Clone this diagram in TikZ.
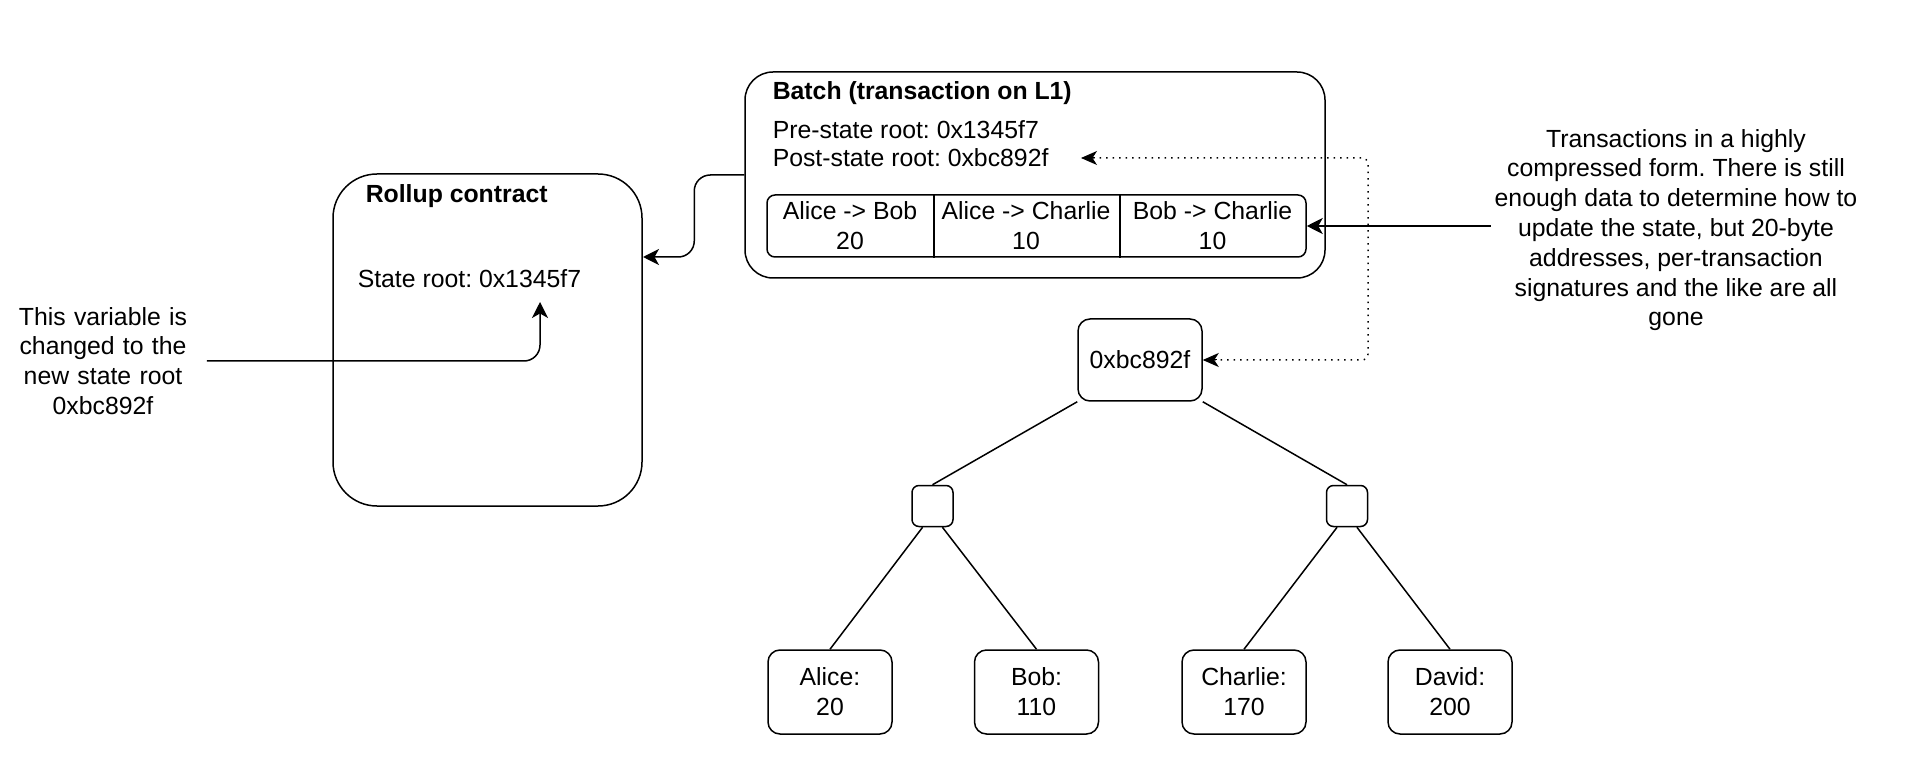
\documentclass[tikz,border=0pt]{standalone}
\usepackage{fontspec}
\setmainfont{Liberation Sans}
\usetikzlibrary{positioning}
\usetikzlibrary{calc}
\usetikzlibrary{arrows.meta}
\frenchspacing

\begin{document}
\begin{tikzpicture}[
    x=1pt, y=-1pt,
    font=\fontsize{24.8}{29.8}\selectfont,
    line width=1.5pt,
    tip/.style={-{Stealth[length=16pt,width=16pt,inset=4.5pt]}},
    roundbox/.style={draw, rounded corners=#1, inner sep=0pt},
    roundbox/.default=12pt,
    plain/.style={inner sep=0pt, anchor=west},
    leafbox/.style={roundbox, minimum width=124pt, minimum height=84pt, align=center},
    midbox/.style={roundbox=7pt, minimum width=41pt, minimum height=41pt},
    dotline/.style={line width=1.5pt, dash pattern=on 1.5pt off 5pt, rounded corners=6pt},
    dottip/.style={-{Stealth[length=16pt,width=14pt,inset=4.5pt]}, line width=1pt},
  ]
  \useasboundingbox (0,0) rectangle (1906,775);

  % rollup contract on L1
  \node [roundbox=44pt, minimum width=309pt, minimum height=332pt] (rollup) at (487.5, 340) {};
  \node [plain, font=\fontsize{24.8}{29.8}\selectfont\bfseries] (rolluptitle) at (365, 196) {Rollup contract};
  \node [plain] (stateroot) at (357, 279) {State root: 0x1345f7};
  \coordinate (rootin) at (540, 302);

  \node [align=center, text width=200pt, inner sep=3pt] (note) at (103, 361) {This variable is\\changed to the\\new state root\\0xbc892f};

  % batch
  \node [roundbox=28pt, minimum width=580pt, minimum height=206pt] (batch) at (1035, 175) {};
  \node [plain, font=\fontsize{24.8}{29.8}\selectfont\bfseries] (batchtitle) at (772, 93) {Batch (transaction on L1)};
  \node [plain] (prestate) at (772, 130) {Pre-state root: 0x1345f7};
  \node [plain] (poststate) at (772, 158) {Post-state root: 0xbc892f};
  \coordinate (postin) at (1081, 158);

  \node [roundbox=8pt, minimum width=539pt, minimum height=62pt] (txrow) at (1036.5, 226) {};
  \node [minimum width=166pt, minimum height=62pt, inner sep=0pt, align=center] (tx1) at (850, 226) {Alice -> Bob\\20};
  \node [minimum width=186pt, minimum height=62pt, inner sep=0pt, align=center] (tx2) at (1026, 226) {Alice -> Charlie\\10};
  \node [minimum width=187pt, minimum height=62pt, inner sep=0pt, align=center] (tx3) at (1212.5, 226) {Bob -> Charlie\\10};
  \draw (tx1.north east) -- (tx1.south east);
  \draw (tx2.north east) -- (tx2.south east);

  \node [align=center, inner sep=3pt] (compnote) at (1676, 230) {Transactions in a highly\\compressed form. There is still\\enough data to determine how to\\update the state, but 20-byte\\addresses, per-transaction\\signatures and the like are all\\gone};

  % state tree
  \node [roundbox, minimum width=124pt, minimum height=82pt] (root) at (1140, 360) {0xbc892f};
  \node [midbox] (midl) at (932.5, 506) {};
  \node [midbox] (midr) at (1347, 506) {};
  \node [leafbox] (alice) at (830, 692) {Alice:\\20};
  \node [leafbox] (bob) at (1036.5, 692) {Bob:\\110};
  \node [leafbox] (charlie) at (1244, 692) {Charlie:\\170};
  \node [leafbox] (david) at (1450, 692) {David:\\200};
  \coordinate (dotx) at (1368, 360);

  \draw (root.south west) -- (midl.north);
  \draw (root.south east) -- (midr.north);
  \draw (midl.-115) -- (alice.north);
  \draw (midl.-65) -- (bob.north);
  \draw (midr.-115) -- (charlie.north);
  \draw (midr.-65) -- (david.north);

  % connectors
  \coordinate (rollupin) at (643, 257);
  \draw [tip, rounded corners=16pt] (batch.west) -- ++(-50,0) |- (rollupin);
  \draw [tip, rounded corners=16pt] (note.east) -| (rootin);
  \draw [tip] (compnote.west |- txrow.east) -- (txrow.east);
  \draw [dotline] ($(postin)+(12,0)$) -| (dotx) -- ($(root.east)+(12,0)$);
  \draw [dottip] ($(postin)+(14,0)$) -- (postin);
  \draw [dottip] ($(root.east)+(14,0)$) -- (root.east);

\end{tikzpicture}
\end{document}
